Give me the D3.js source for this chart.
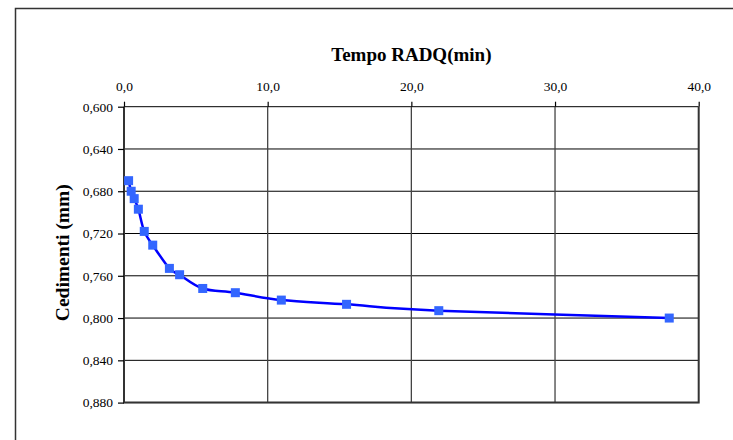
<!DOCTYPE html>
<html>
<head>
<meta charset="utf-8">
<script src="https://cdn.jsdelivr.net/npm/d3@7"></script>
<style>
  html, body { margin: 0; padding: 0; background: #fff; }
  svg { display: block; font-family: "Liberation Serif", "Times New Roman", serif; }
  .axis text { font-family: "Liberation Serif", "Times New Roman", serif; font-size: 13.5px; fill: #000; }
</style>
</head>
<body>
<svg id="chart" width="733" height="440"></svg>
<script>
// Square root of elapsed time (√min) and measured settlement (mm)
const radqTime = [0.32, 0.50, 0.71, 1.00, 1.41, 2.00, 3.16, 3.87, 5.48, 7.75, 10.95, 15.49, 21.91, 37.95];
const settlement = [0.670, 0.680, 0.687, 0.697, 0.718, 0.731, 0.753, 0.759, 0.772, 0.776, 0.783, 0.787, 0.793, 0.800];

const xTicks = [0, 10, 20, 30, 40];
const yTicks = [0.600, 0.640, 0.680, 0.720, 0.760, 0.800, 0.840, 0.880];

const xTitle = "Tempo RADQ(min)";
const yTitle = "Cedimenti (mm)";

const svg = d3.select("#chart");
const comma = s => s.replace(".", ",");

const x = d3.scaleLinear().domain([0, 40]).range([124, 698.7]);
const y = d3.scaleLinear().domain([0.600, 0.880]).range([106.7, 402.6]);

// outer chart frame (runs off the right and bottom edges)
svg.append("rect")
  .attr("x", 15.5).attr("y", 8.5)
  .attr("width", 740).attr("height", 450)
  .attr("fill", "none").attr("stroke", "#333").attr("stroke-width", 1.5);

// horizontal gridlines
svg.append("g").selectAll("line").data(yTicks).join("line")
  .attr("x1", x(0)).attr("x2", x(40))
  .attr("y1", d => y(d)).attr("y2", d => y(d))
  .attr("stroke", "#000").attr("stroke-width", 1);

// vertical gridlines
svg.append("g").selectAll("line").data(xTicks.slice(1, -1)).join("line")
  .attr("x1", d => x(d)).attr("x2", d => x(d))
  .attr("y1", y(0.600)).attr("y2", y(0.880))
  .attr("stroke", "#444").attr("stroke-width", 1.3);

// plot border: left, bottom and right edges heavier
svg.append("path")
  .attr("d", `M${x(0)},${y(0.600)}V${y(0.880)}H${x(40)}V${y(0.600)}`)
  .attr("fill", "none").attr("stroke", "#333").attr("stroke-width", 2);

// top axis (time)
const xAxis = svg.append("g")
  .attr("class", "axis")
  .attr("transform", `translate(0,${y(0.600)})`)
  .call(d3.axisTop(x).tickValues(xTicks).tickSize(5).tickPadding(11)
    .tickFormat(d => comma(d3.format(".1f")(d))));
xAxis.attr("font-family", null).attr("font-size", null);
xAxis.select(".domain").remove();
xAxis.selectAll(".tick line").attr("stroke", "#000").attr("stroke-width", 1.2);

// left axis (settlement)
const yAxis = svg.append("g")
  .attr("class", "axis")
  .attr("transform", `translate(${x(0)},0)`)
  .call(d3.axisLeft(y).tickValues(yTicks).tickSize(6).tickPadding(5)
    .tickFormat(d => comma(d3.format(".3f")(d))));
yAxis.attr("font-family", null).attr("font-size", null);
yAxis.select(".domain").remove();
yAxis.selectAll(".tick line").attr("stroke", "#000").attr("stroke-width", 1.2);

// axis titles
svg.append("text")
  .attr("x", (x(0) + x(40)) / 2).attr("y", 61)
  .attr("text-anchor", "middle")
  .attr("font-size", 19).attr("font-weight", "bold").attr("fill", "#000")
  .text(xTitle);

svg.append("text")
  .attr("transform", `translate(69,${(y(0.600) + y(0.880)) / 2 - 2}) rotate(-90)`)
  .attr("text-anchor", "middle")
  .attr("font-size", 19.5).attr("font-weight", "bold").attr("fill", "#000")
  .text(yTitle);

// settlement curve (smoothed)
const pts = radqTime.map((t, i) => [t, settlement[i]]);
const line = d3.line()
  .x(d => x(d[0])).y(d => y(d[1]))
  .curve(d3.curveCardinal.tension(0));

svg.append("path")
  .datum(pts)
  .attr("d", line)
  .attr("fill", "none").attr("stroke", "#0000FF").attr("stroke-width", 2.5);

// square markers
const ms = 9;
svg.append("g").selectAll("rect").data(pts).join("rect")
  .attr("x", d => x(d[0]) - ms / 2).attr("y", d => y(d[1]) - ms / 2)
  .attr("width", ms).attr("height", ms)
  .attr("fill", "#3366FF");
</script>
</body>
</html>
